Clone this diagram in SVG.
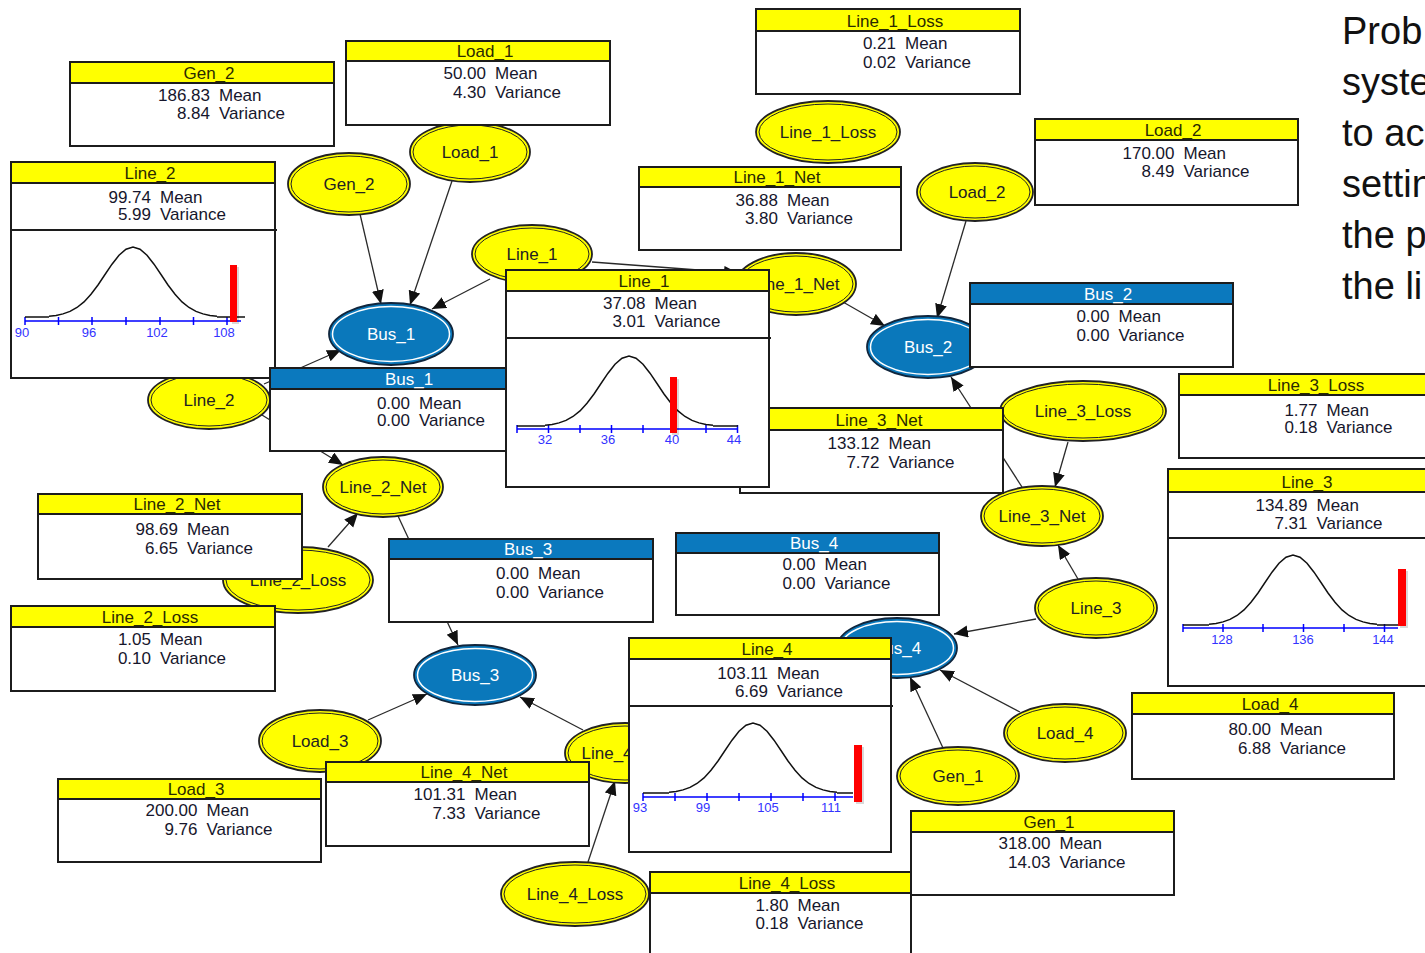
<svg xmlns="http://www.w3.org/2000/svg" xmlns:xlink="http://www.w3.org/1999/xlink" width="1425" height="953" viewBox="0 0 1425 953">
<style>
text{font-family:"Liberation Sans",Arial,sans-serif}
.body{fill:#fff;stroke:#1c1c1c;stroke-width:2}
.hdr{fill:#ffff00;stroke:#1c1c1c;stroke-width:2}
.hdr.b{fill:#0b79be}
.sep{stroke:#1c1c1c;stroke-width:2}
.ht{font-size:17px;text-anchor:middle;fill:#2a2a00}
.ht.w{fill:#fff}
.num{font-size:17px;text-anchor:end;fill:#16162c}
.lbl{font-size:17px;fill:#16162c}
.yo{fill:#ffff00;stroke:#222;stroke-width:1.8}
.yi{fill:none;stroke:#222;stroke-width:1}
.bo{fill:#0a78bb;stroke:#10263d;stroke-width:1.8}
.bi{fill:none;stroke:#fff;stroke-width:1.5}
.nt{font-size:17px;text-anchor:middle;fill:#222}
.nt.w{fill:#fff}
.axis{stroke:#0000ff;stroke-width:1.5;fill:none}
.al{font-size:13px;fill:#3333ff;text-anchor:middle}
.curve{fill:none;stroke:#111;stroke-width:1.5}
.bar{fill:#ff0000}
.shadow{fill:#000;opacity:0.15}
.conn line{stroke:#2a2a2a;stroke-width:1.3;marker-end:url(#ah)}
.side{font-size:38px;fill:#111}
</style>
<defs>
<marker id="ah" markerUnits="userSpaceOnUse" markerWidth="16" markerHeight="13" refX="14" refY="6" orient="auto">
<path d="M0,0 L14,6 L0,12 z" fill="#111"/>
</marker>
<!-- unit bell curve: peak at (0,-70), baseline y=0, sigma 28px -->
<path id="gauss" d="M-84,-0.8 L-77,-1.6 L-70,-3.1 L-63,-5.6 L-56,-9.5 L-49,-15.1 L-42,-22.7 L-35,-32 L-28,-42.5 L-21,-52.8 L-14,-61.8 L-7,-67.8 L0,-70 L7,-67.8 L14,-61.8 L21,-52.8 L28,-42.5 L35,-32 L42,-22.7 L49,-15.1 L56,-9.5 L63,-5.6 L70,-3.1 L77,-1.6 L84,-0.8"/>
</defs>
<rect width="1425" height="953" fill="#fff"/>

<!-- side note text (runs past the right edge) -->
<g id="side-text">
<text class="side" x="1342" y="44">Prob</text>
<text class="side" x="1342" y="95">syste</text>
<text class="side" x="1342" y="146">to ac</text>
<text class="side" x="1342" y="197">settin</text>
<text class="side" x="1342" y="248">the p</text>
<text class="side" x="1342" y="299">the li</text>
</g>

<!-- connectors -->
<g id="connectors" class="conn">
<line x1="360" y1="214" x2="381" y2="304"/>
<line x1="452" y1="181" x2="410" y2="305"/>
<line x1="490" y1="279" x2="432" y2="309"/>
<line x1="264" y1="384" x2="341" y2="350"/>
<line x1="262" y1="415" x2="343" y2="465"/>
<line x1="328" y1="547" x2="358" y2="513"/>
<line x1="398" y1="516" x2="458" y2="645"/>
<line x1="368" y1="720" x2="427" y2="694"/>
<line x1="583" y1="730" x2="520" y2="697"/>
<line x1="588" y1="862" x2="615" y2="781"/>
<line x1="592" y1="262" x2="738" y2="273"/>
<line x1="843" y1="302" x2="885" y2="326"/>
<line x1="966" y1="221" x2="937" y2="318"/>
<line x1="1022" y1="487" x2="951" y2="377"/>
<line x1="1068" y1="442" x2="1055" y2="487"/>
<line x1="1078" y1="579" x2="1058" y2="545"/>
<line x1="1036" y1="619" x2="954" y2="634"/>
<line x1="1020" y1="712" x2="940" y2="670"/>
<line x1="943" y1="748" x2="910" y2="677"/>
</g>

<!-- network nodes -->
<g id="node-Gen_2"><ellipse class="yo" cx="349" cy="184" rx="61" ry="31"/><ellipse class="yi" cx="349" cy="184" rx="58" ry="28"/><text class="nt" x="349" y="190">Gen_2</text></g>
<g id="node-Load_1"><ellipse class="yo" cx="470" cy="152" rx="60" ry="30"/><ellipse class="yi" cx="470" cy="152" rx="57" ry="27"/><text class="nt" x="470" y="158">Load_1</text></g>
<g id="node-Line_1"><ellipse class="yo" cx="532" cy="254" rx="60" ry="29"/><ellipse class="yi" cx="532" cy="254" rx="57" ry="26"/><text class="nt" x="532" y="260">Line_1</text></g>
<g id="node-Bus_1"><ellipse class="bo" cx="391" cy="334" rx="62" ry="31"/><ellipse class="bi" cx="391" cy="334" rx="58.5" ry="27.5"/><text class="nt w" x="391" y="340">Bus_1</text></g>
<g id="node-Line_2"><ellipse class="yo" cx="209" cy="400" rx="61" ry="29"/><ellipse class="yi" cx="209" cy="400" rx="58" ry="26"/><text class="nt" x="209" y="406">Line_2</text></g>
<g id="node-Line_2_Net"><ellipse class="yo" cx="383" cy="487" rx="60" ry="30"/><ellipse class="yi" cx="383" cy="487" rx="57" ry="27"/><text class="nt" x="383" y="493">Line_2_Net</text></g>
<g id="node-Line_2_Loss"><ellipse class="yo" cx="298" cy="580" rx="75" ry="33"/><ellipse class="yi" cx="298" cy="580" rx="72" ry="30"/><text class="nt" x="298" y="586">Line_2_Loss</text></g>
<g id="node-Line_1_Loss"><ellipse class="yo" cx="828" cy="132" rx="72" ry="31"/><ellipse class="yi" cx="828" cy="132" rx="69" ry="28"/><text class="nt" x="828" y="138">Line_1_Loss</text></g>
<g id="node-Line_1_Net"><ellipse class="yo" cx="796" cy="284" rx="60" ry="31"/><ellipse class="yi" cx="796" cy="284" rx="57" ry="28"/><text class="nt" x="796" y="290">Line_1_Net</text></g>
<g id="node-Load_2"><ellipse class="yo" cx="975" cy="192" rx="58" ry="29"/><ellipse class="yi" cx="975" cy="192" rx="55" ry="26"/><text class="nt" x="977" y="198">Load_2</text></g>
<g id="node-Bus_2"><ellipse class="bo" cx="928" cy="347" rx="61" ry="31"/><ellipse class="bi" cx="928" cy="347" rx="57.5" ry="27.5"/><text class="nt w" x="928" y="353">Bus_2</text></g>
<g id="node-Line_3_Loss"><ellipse class="yo" cx="1083" cy="411" rx="83" ry="30"/><ellipse class="yi" cx="1083" cy="411" rx="80" ry="27"/><text class="nt" x="1083" y="417">Line_3_Loss</text></g>
<g id="node-Line_3_Net"><ellipse class="yo" cx="1042" cy="516" rx="61" ry="30"/><ellipse class="yi" cx="1042" cy="516" rx="58" ry="27"/><text class="nt" x="1042" y="522">Line_3_Net</text></g>
<g id="node-Line_3"><ellipse class="yo" cx="1096" cy="608" rx="61" ry="30"/><ellipse class="yi" cx="1096" cy="608" rx="58" ry="27"/><text class="nt" x="1096" y="614">Line_3</text></g>
<g id="node-Bus_4"><ellipse class="bo" cx="897" cy="648" rx="60" ry="30"/><ellipse class="bi" cx="897" cy="648" rx="56.5" ry="26.5"/><text class="nt w" x="897" y="654">Bus_4</text></g>
<g id="node-Load_4"><ellipse class="yo" cx="1065" cy="733" rx="61" ry="29"/><ellipse class="yi" cx="1065" cy="733" rx="58" ry="26"/><text class="nt" x="1065" y="739">Load_4</text></g>
<g id="node-Gen_1"><ellipse class="yo" cx="958" cy="776" rx="61" ry="29"/><ellipse class="yi" cx="958" cy="776" rx="58" ry="26"/><text class="nt" x="958" y="782">Gen_1</text></g>
<g id="node-Bus_3"><ellipse class="bo" cx="475" cy="675" rx="61" ry="30"/><ellipse class="bi" cx="475" cy="675" rx="57.5" ry="26.5"/><text class="nt w" x="475" y="681">Bus_3</text></g>
<g id="node-Load_3"><ellipse class="yo" cx="320" cy="741" rx="61" ry="31"/><ellipse class="yi" cx="320" cy="741" rx="58" ry="28"/><text class="nt" x="320" y="747">Load_3</text></g>
<g id="node-Line_4_Net"><ellipse class="yo" cx="625" cy="753" rx="60" ry="30"/><ellipse class="yi" cx="625" cy="753" rx="57" ry="27"/><text class="nt" x="625" y="759">Line_4_Net</text></g>
<g id="node-Line_4_Loss"><ellipse class="yo" cx="575" cy="894" rx="74" ry="32"/><ellipse class="yi" cx="575" cy="894" rx="71" ry="29"/><text class="nt" x="575" y="900">Line_4_Loss</text></g>

<!-- monitor windows -->
<g id="mon-Gen_2"><rect class="body" x="70" y="62" width="264" height="84"/><rect class="hdr" x="70" y="62" width="264" height="21"/><text class="ht" x="209" y="79">Gen_2</text><text class="num" x="210" y="101">186.83</text><text class="lbl" x="219" y="101">Mean</text><text class="num" x="210" y="119">8.84</text><text class="lbl" x="219" y="119">Variance</text></g>
<g id="mon-Load_1"><rect class="body" x="346" y="41" width="264" height="84"/><rect class="hdr" x="346" y="41" width="264" height="20"/><text class="ht" x="485" y="57">Load_1</text><text class="num" x="486" y="79">50.00</text><text class="lbl" x="495" y="79">Mean</text><text class="num" x="486" y="98">4.30</text><text class="lbl" x="495" y="98">Variance</text></g>
<g id="mon-Line_1_Loss"><rect class="body" x="756" y="9" width="264" height="85"/><rect class="hdr" x="756" y="9" width="264" height="22"/><text class="ht" x="895" y="27">Line_1_Loss</text><text class="num" x="896" y="49">0.21</text><text class="lbl" x="905" y="49">Mean</text><text class="num" x="896" y="68">0.02</text><text class="lbl" x="905" y="68">Variance</text></g>
<g id="mon-Line_1_Net"><rect class="body" x="639" y="167" width="262" height="83"/><rect class="hdr" x="639" y="167" width="262" height="20"/><text class="ht" x="777" y="183">Line_1_Net</text><text class="num" x="778" y="206">36.88</text><text class="lbl" x="787" y="206">Mean</text><text class="num" x="778" y="224">3.80</text><text class="lbl" x="787" y="224">Variance</text></g>
<g id="mon-Load_2"><rect class="body" x="1035" y="119" width="263" height="86"/><rect class="hdr" x="1035" y="119" width="263" height="21"/><text class="ht" x="1173" y="136">Load_2</text><text class="num" x="1174.5" y="159">170.00</text><text class="lbl" x="1183.5" y="159">Mean</text><text class="num" x="1174.5" y="177">8.49</text><text class="lbl" x="1183.5" y="177">Variance</text></g>
<g id="mon-Bus_2"><rect class="body" x="970" y="283" width="263" height="84"/><rect class="hdr b" x="970" y="283" width="263" height="21"/><text class="ht w" x="1108" y="300">Bus_2</text><text class="num" x="1109.5" y="322">0.00</text><text class="lbl" x="1118.5" y="322">Mean</text><text class="num" x="1109.5" y="341">0.00</text><text class="lbl" x="1118.5" y="341">Variance</text></g>
<g id="mon-Line_2"><rect class="body" x="11" y="162" width="264" height="216"/><rect class="hdr" x="11" y="162" width="264" height="21"/><line class="sep" x1="11" y1="230" x2="277" y2="230"/><text class="ht" x="150" y="179">Line_2</text><text class="num" x="151" y="203">99.74</text><text class="lbl" x="160" y="203">Mean</text><text class="num" x="151" y="220">5.99</text><text class="lbl" x="160" y="220">Variance</text>
<path class="axis" d="M25,321 H241 M25,317 V325 M58.5,317 V325 M92,317 V325 M126,317 V325 M160,317 V325 M193.5,317 V325 M227,317 V325"/>
<path class="curve" d="M25,317 H49 M217,317 H245"/><use xlink:href="#gauss" class="curve" transform="translate(133,317)"/>
<text class="al" x="22" y="337">90</text><text class="al" x="89" y="337">96</text><text class="al" x="157" y="337">102</text><text class="al" x="224" y="337">108</text>
<rect class="shadow" x="232" y="267" width="7" height="57"/><rect class="bar" x="230" y="265" width="7" height="57"/></g>
<g id="mon-Bus_1"><rect class="body" x="270" y="368" width="264" height="83"/><rect class="hdr b" x="270" y="368" width="264" height="21"/><text class="ht w" x="409" y="385">Bus_1</text><text class="num" x="410" y="409">0.00</text><text class="lbl" x="419" y="409">Mean</text><text class="num" x="410" y="426">0.00</text><text class="lbl" x="419" y="426">Variance</text></g>
<g id="mon-Line_3_Net"><rect class="body" x="740" y="408" width="263" height="85"/><rect class="hdr" x="740" y="408" width="263" height="22"/><text class="ht" x="879" y="426">Line_3_Net</text><text class="num" x="879.5" y="449">133.12</text><text class="lbl" x="888.5" y="449">Mean</text><text class="num" x="879.5" y="468">7.72</text><text class="lbl" x="888.5" y="468">Variance</text></g>
<g id="mon-Line_1"><rect class="body" x="506" y="270" width="263" height="217"/><rect class="hdr" x="506" y="270" width="263" height="21"/><line class="sep" x1="506" y1="338" x2="771" y2="338"/><text class="ht" x="644" y="287">Line_1</text><text class="num" x="645.5" y="309">37.08</text><text class="lbl" x="654.5" y="309">Mean</text><text class="num" x="645.5" y="327">3.01</text><text class="lbl" x="654.5" y="327">Variance</text>
<path class="axis" d="M517,429 H738 M517,425 V433 M548.5,425 V433 M580,425 V433 M611.5,425 V433 M643,425 V433 M674.5,425 V433 M706,425 V433 M737.5,425 V433"/>
<path class="curve" d="M517,426 H545 M713,426 H738"/><use xlink:href="#gauss" class="curve" transform="translate(629,426)"/>
<text class="al" x="545" y="444">32</text><text class="al" x="608" y="444">36</text><text class="al" x="672" y="444">40</text><text class="al" x="734" y="444">44</text>
<rect class="shadow" x="672" y="379" width="7" height="56"/><rect class="bar" x="670" y="377" width="7" height="56"/></g>
<g id="mon-Line_3_Loss"><rect class="body" x="1179" y="374" width="262" height="84"/><rect class="hdr" x="1179" y="374" width="262" height="21"/><text class="ht" x="1316" y="391">Line_3_Loss</text><text class="num" x="1317.5" y="416">1.77</text><text class="lbl" x="1326.5" y="416">Mean</text><text class="num" x="1317.5" y="433">0.18</text><text class="lbl" x="1326.5" y="433">Variance</text></g>
<g id="mon-Line_3"><rect class="body" x="1168" y="469" width="263" height="217"/><rect class="hdr" x="1168" y="469" width="263" height="23"/><line class="sep" x1="1168" y1="538" x2="1433" y2="538"/><text class="ht" x="1307" y="488">Line_3</text><text class="num" x="1307.5" y="511">134.89</text><text class="lbl" x="1316.5" y="511">Mean</text><text class="num" x="1307.5" y="529">7.31</text><text class="lbl" x="1316.5" y="529">Variance</text>
<path class="axis" d="M1183,628 H1398 M1183,624 V632 M1223,624 V632 M1263,624 V632 M1303.5,624 V632 M1344,624 V632 M1384.5,624 V632"/>
<path class="curve" d="M1183,625 H1209 M1377,625 H1398"/><use xlink:href="#gauss" class="curve" transform="translate(1293,625)"/>
<text class="al" x="1222" y="644">128</text><text class="al" x="1303" y="644">136</text><text class="al" x="1383" y="644">144</text>
<rect class="shadow" x="1400" y="571" width="8" height="57"/><rect class="bar" x="1398" y="569" width="8" height="57"/></g>
<g id="mon-Line_2_Net"><rect class="body" x="38" y="494" width="264" height="85"/><rect class="hdr" x="38" y="494" width="264" height="20"/><text class="ht" x="177" y="510">Line_2_Net</text><text class="num" x="178" y="535">98.69</text><text class="lbl" x="187" y="535">Mean</text><text class="num" x="178" y="554">6.65</text><text class="lbl" x="187" y="554">Variance</text></g>
<g id="mon-Line_2_Loss"><rect class="body" x="11" y="606" width="264" height="85"/><rect class="hdr" x="11" y="606" width="264" height="21"/><text class="ht" x="150" y="623">Line_2_Loss</text><text class="num" x="151" y="645">1.05</text><text class="lbl" x="160" y="645">Mean</text><text class="num" x="151" y="664">0.10</text><text class="lbl" x="160" y="664">Variance</text></g>
<g id="mon-Bus_3"><rect class="body" x="389" y="539" width="264" height="83"/><rect class="hdr b" x="389" y="539" width="264" height="20"/><text class="ht w" x="528" y="555">Bus_3</text><text class="num" x="529" y="579">0.00</text><text class="lbl" x="538" y="579">Mean</text><text class="num" x="529" y="598">0.00</text><text class="lbl" x="538" y="598">Variance</text></g>
<g id="mon-Bus_4"><rect class="body" x="676" y="533" width="263" height="82"/><rect class="hdr b" x="676" y="533" width="263" height="20"/><text class="ht w" x="814" y="549">Bus_4</text><text class="num" x="815.5" y="570">0.00</text><text class="lbl" x="824.5" y="570">Mean</text><text class="num" x="815.5" y="589">0.00</text><text class="lbl" x="824.5" y="589">Variance</text></g>
<g id="mon-Line_4"><rect class="body" x="629" y="638" width="262" height="214"/><rect class="hdr" x="629" y="638" width="262" height="21"/><line class="sep" x1="629" y1="706" x2="893" y2="706"/><text class="ht" x="767" y="655">Line_4</text><text class="num" x="768" y="679">103.11</text><text class="lbl" x="777" y="679">Mean</text><text class="num" x="768" y="697">6.69</text><text class="lbl" x="777" y="697">Variance</text>
<path class="axis" d="M643,797 H853 M643,793 V801 M675,793 V801 M707,793 V801 M739,793 V801 M771,793 V801 M803,793 V801 M835,793 V801"/>
<path class="curve" d="M643,793 H669 M837,793 H853"/><use xlink:href="#gauss" class="curve" transform="translate(753,793)"/>
<text class="al" x="640" y="812">93</text><text class="al" x="703" y="812">99</text><text class="al" x="768" y="812">105</text><text class="al" x="831" y="812">111</text>
<rect class="shadow" x="856" y="747" width="8" height="57"/><rect class="bar" x="854" y="745" width="8" height="57"/></g>
<g id="mon-Load_4"><rect class="body" x="1132" y="693" width="262" height="86"/><rect class="hdr" x="1132" y="693" width="262" height="21"/><text class="ht" x="1270" y="710">Load_4</text><text class="num" x="1271" y="735">80.00</text><text class="lbl" x="1280" y="735">Mean</text><text class="num" x="1271" y="754">6.88</text><text class="lbl" x="1280" y="754">Variance</text></g>
<g id="mon-Load_3"><rect class="body" x="58" y="779" width="263" height="83"/><rect class="hdr" x="58" y="779" width="263" height="20"/><text class="ht" x="196" y="795">Load_3</text><text class="num" x="197.5" y="816">200.00</text><text class="lbl" x="206.5" y="816">Mean</text><text class="num" x="197.5" y="835">9.76</text><text class="lbl" x="206.5" y="835">Variance</text></g>
<g id="mon-Line_4_Net"><rect class="body" x="326" y="762" width="263" height="84"/><rect class="hdr" x="326" y="762" width="263" height="20"/><text class="ht" x="464" y="778">Line_4_Net</text><text class="num" x="465.5" y="800">101.31</text><text class="lbl" x="474.5" y="800">Mean</text><text class="num" x="465.5" y="819">7.33</text><text class="lbl" x="474.5" y="819">Variance</text></g>
<g id="mon-Gen_1"><rect class="body" x="911" y="811" width="263" height="84"/><rect class="hdr" x="911" y="811" width="263" height="21"/><text class="ht" x="1049" y="828">Gen_1</text><text class="num" x="1050.5" y="849">318.00</text><text class="lbl" x="1059.5" y="849">Mean</text><text class="num" x="1050.5" y="868">14.03</text><text class="lbl" x="1059.5" y="868">Variance</text></g>
<g id="mon-Line_4_Loss"><rect class="body" x="650" y="872" width="261" height="100"/><rect class="hdr" x="650" y="872" width="261" height="21"/><text class="ht" x="787" y="889">Line_4_Loss</text><text class="num" x="788.5" y="911">1.80</text><text class="lbl" x="797.5" y="911">Mean</text><text class="num" x="788.5" y="929">0.18</text><text class="lbl" x="797.5" y="929">Variance</text></g>
</svg>
